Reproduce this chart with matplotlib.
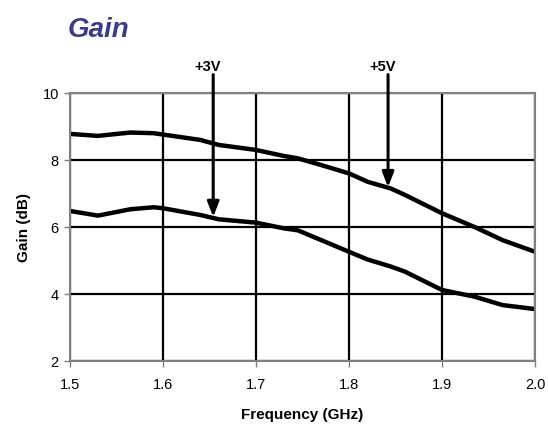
import matplotlib.pyplot as plt

plt.rcParams['font.family'] = ['Liberation Sans', 'DejaVu Sans']

# frequency points (GHz) and gain (dB)
freq = [1.50, 1.53, 1.565, 1.59, 1.60, 1.64, 1.66, 1.70, 1.73, 1.745,
        1.77, 1.80, 1.82, 1.845, 1.86, 1.90, 1.935, 1.965, 2.00]
gain_5v = [8.78, 8.72, 8.82, 8.80, 8.76, 8.60, 8.45, 8.30, 8.12, 8.05,
           7.85, 7.60, 7.35, 7.15, 6.96, 6.41, 6.00, 5.61, 5.26]
gain_3v = [6.48, 6.34, 6.53, 6.59, 6.56, 6.36, 6.23, 6.13, 5.96, 5.90,
           5.61, 5.26, 5.03, 4.82, 4.67, 4.12, 3.92, 3.67, 3.55]

labels = ["+3V", "+5V"]
arrow_x = [1.654, 1.842]
arrow_tip = [6.30, 7.19]

fig = plt.figure(figsize=(5.48, 4.34), dpi=100)
ax = fig.add_axes([0.1277, 0.1682, 0.8486, 0.6175])

for g in (gain_5v, gain_3v):
    ax.plot(freq, g, color="black", lw=3.2, solid_joinstyle="round",
            solid_capstyle="butt")

ax.set_xlim(1.5, 2.0)
ax.set_ylim(2, 10)
ax.set_xticks([1.5, 1.6, 1.7, 1.8, 1.9, 2.0])
ax.set_xticklabels(["1.5", "1.6", "1.7", "1.8", "1.9", "2.0"])
ax.set_yticks([2, 4, 6, 8, 10])
ax.grid(True, color="black", lw=1.6)
ax.tick_params(axis="both", direction="out", length=4, width=1, color="#808080",
               labelsize=10.5, pad=4)
ax.tick_params(axis="x", pad=8)
for s in ax.spines.values():
    s.set_color("#808080")
    s.set_linewidth(1.5)

for lab, x, tip in zip(labels, arrow_x, arrow_tip):
    ax.annotate("", xy=(x, tip), xytext=(x, 10.55),
                arrowprops=dict(arrowstyle="-|>,head_length=0.9,head_width=0.35",
                                color="black", lw=2.2, shrinkA=0, shrinkB=0),
                annotation_clip=False)
    ax.text(x - 0.006, 10.78, lab, ha="center", va="center", fontsize=10.5,
            fontweight="bold")

ax.set_xlabel("Frequency (GHz)", fontsize=11, fontweight="bold", labelpad=12)
ax.set_ylabel("Gain (dB)", fontsize=11, fontweight="bold", labelpad=8)

fig.text(0.124, 0.932, "Gain", fontsize=20, fontweight="bold", style="italic",
         color="#3C3C8C", ha="left", va="center")

fig.savefig("out.png", dpi=100)
